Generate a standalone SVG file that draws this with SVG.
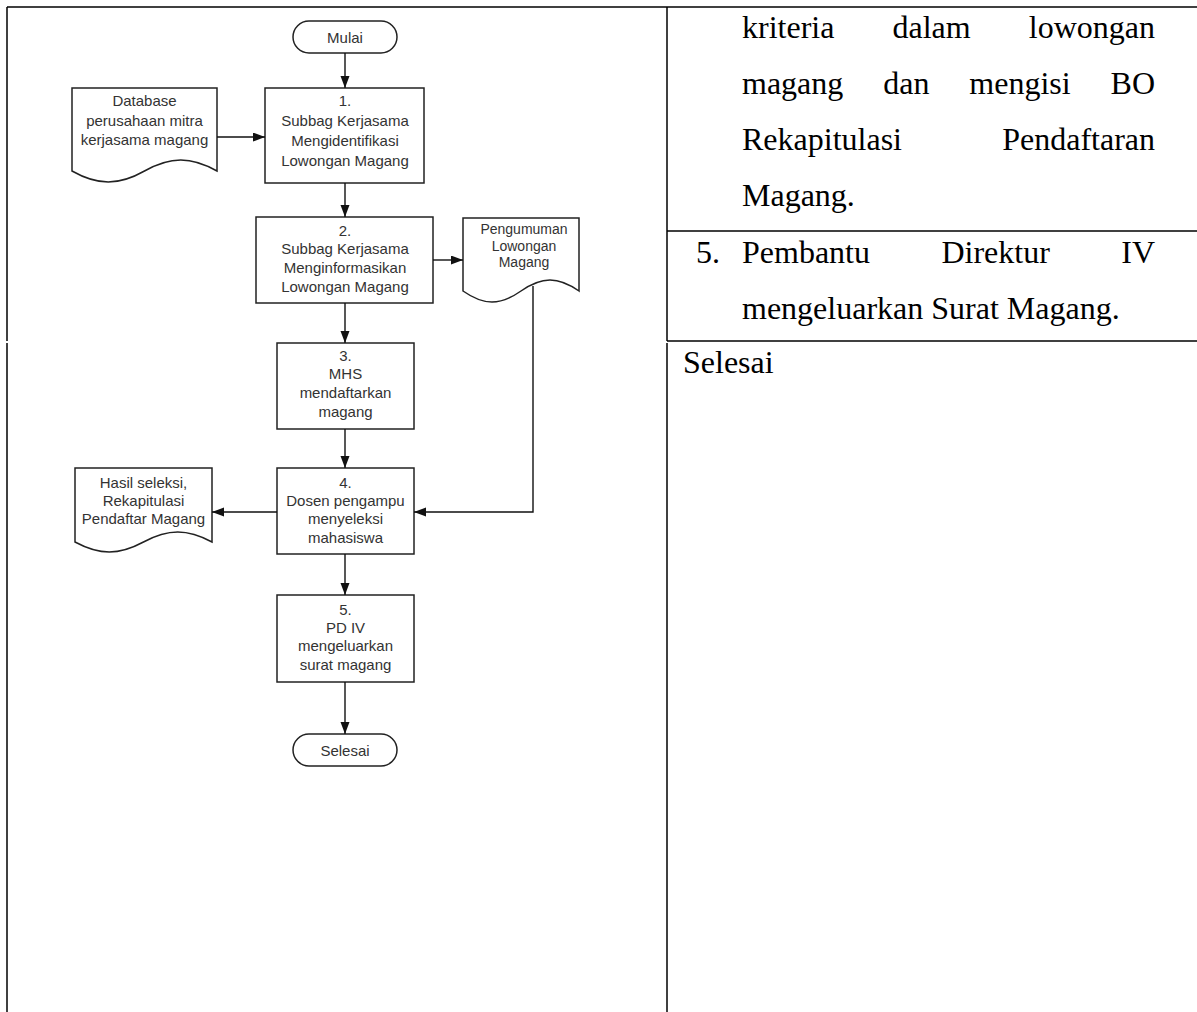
<svg xmlns="http://www.w3.org/2000/svg" width="1197" height="1012" viewBox="0 0 1197 1012">
<style>
.tbl{stroke:#000;stroke-width:1.5;fill:none}
.shape{fill:#fff;stroke:#222;stroke-width:1.5}
.fc{font-family:"Liberation Sans",Arial,sans-serif;font-size:15px;fill:#333;text-anchor:middle}
.fcs{font-family:"Liberation Sans",Arial,sans-serif;font-size:14px;fill:#333;text-anchor:middle}
.conn{stroke:#111;stroke-width:1.4;fill:none;marker-end:url(#ah)}
.body{font-family:"Liberation Serif","Times New Roman",serif;font-size:32px;fill:#000}
.end{text-anchor:end}
</style>
<defs>
<marker id="ah" markerUnits="userSpaceOnUse" markerWidth="13" markerHeight="10" refX="12" refY="4.5" orient="auto">
<path d="M0,0 L12,4.5 L0,9 Z" fill="#111"/>
</marker>
</defs>
<rect width="1197" height="1012" fill="#fff"/>
<g id="table">
<line class="tbl" x1="7" y1="7" x2="1197" y2="7"/>
<line class="tbl" x1="7" y1="7" x2="7" y2="341"/>
<line class="tbl" x1="7" y1="343" x2="7" y2="1012"/>
<line class="tbl" x1="667" y1="7" x2="667" y2="341"/>
<line class="tbl" x1="667" y1="343" x2="667" y2="1012"/>
<line class="tbl" x1="667" y1="231" x2="1197" y2="231"/>
<line class="tbl" x1="667" y1="341" x2="1197" y2="341"/>
</g>
<g id="right-text">
<text class="body" x="742" y="38">kriteria</text>
<text class="body" x="892.5" y="38">dalam</text>
<text class="body end" x="1155" y="38">lowongan</text>
<text class="body" x="742" y="94">magang</text>
<text class="body" x="883.2" y="94">dan</text>
<text class="body" x="969.3" y="94">mengisi</text>
<text class="body end" x="1155" y="94">BO</text>
<text class="body" x="742" y="150">Rekapitulasi</text>
<text class="body end" x="1155" y="150">Pendaftaran</text>
<text class="body" x="742" y="206">Magang.</text>
<text class="body" x="696" y="263">5.</text>
<text class="body" x="742" y="263">Pembantu</text>
<text class="body" x="941.4" y="263">Direktur</text>
<text class="body end" x="1155" y="263">IV</text>
<text class="body" x="742" y="319">mengeluarkan Surat Magang.</text>
<text class="body" x="683" y="373">Selesai</text>
</g>
<g id="mulai">
<rect class="shape" x="293" y="21" width="104" height="32" rx="16"/>
<text class="fc" x="345" y="42.5">Mulai</text>
</g>
<g id="database">
<path class="shape" d="M72,88 H217 V171 C191,156.3 170.5,156.3 144.5,171 C118.5,185.7 98,185.7 72,171 Z"/>
<text class="fc" x="144.5" y="106">Database</text>
<text class="fc" x="144.5" y="126">perusahaan mitra</text>
<text class="fc" x="144.5" y="145">kerjasama magang</text>
</g>
<g id="step1">
<rect class="shape" x="265" y="88" width="159" height="95"/>
<text class="fc" x="345" y="106">1.</text>
<text class="fc" x="345" y="126">Subbag Kerjasama</text>
<text class="fc" x="345" y="146">Mengidentifikasi</text>
<text class="fc" x="345" y="166">Lowongan Magang</text>
</g>
<g id="step2">
<rect class="shape" x="256" y="217" width="177" height="86"/>
<text class="fc" x="345" y="235.5">2.</text>
<text class="fc" x="345" y="254">Subbag Kerjasama</text>
<text class="fc" x="345" y="273">Menginformasikan</text>
<text class="fc" x="345" y="291.5">Lowongan Magang</text>
</g>
<g id="pengumuman">
<path class="shape" d="M463,218 H579 V291 C558,276.3 542,276.3 521,291 C500,305.7 484,305.7 463,291 Z"/>
<text class="fcs" x="524" y="234">Pengumuman</text>
<text class="fcs" x="524" y="250.5">Lowongan</text>
<text class="fcs" x="524" y="267">Magang</text>
</g>
<g id="step3">
<rect class="shape" x="277" y="343" width="137" height="86"/>
<text class="fc" x="345.5" y="360.5">3.</text>
<text class="fc" x="345.5" y="378.5">MHS</text>
<text class="fc" x="345.5" y="397.5">mendaftarkan</text>
<text class="fc" x="345.5" y="416.5">magang</text>
</g>
<g id="step4">
<rect class="shape" x="277" y="468" width="137" height="86"/>
<text class="fc" x="345.5" y="487.5">4.</text>
<text class="fc" x="345.5" y="505.5">Dosen pengampu</text>
<text class="fc" x="345.5" y="523.5">menyeleksi</text>
<text class="fc" x="345.5" y="542.5">mahasiswa</text>
</g>
<g id="hasil">
<path class="shape" d="M75,468 H212 V542 C187.3,528.7 168.2,528.7 143.5,542 C118.8,555.3 99.7,555.3 75,542 Z"/>
<text class="fc" x="143.5" y="487.5">Hasil seleksi,</text>
<text class="fc" x="143.5" y="506">Rekapitulasi</text>
<text class="fc" x="143.5" y="524">Pendaftar Magang</text>
</g>
<g id="step5">
<rect class="shape" x="277" y="595" width="137" height="87"/>
<text class="fc" x="345.5" y="614.5">5.</text>
<text class="fc" x="345.5" y="632.5">PD IV</text>
<text class="fc" x="345.5" y="650.5">mengeluarkan</text>
<text class="fc" x="345.5" y="669.5">surat magang</text>
</g>
<g id="selesai">
<rect class="shape" x="293" y="734" width="104" height="32" rx="16"/>
<text class="fc" x="345" y="755.5">Selesai</text>
</g>
<g id="connectors">
<path class="conn" d="M345,53 V88"/>
<path class="conn" d="M217,137 H265"/>
<path class="conn" d="M345,183 V217"/>
<path class="conn" d="M433,260 H463"/>
<path class="conn" d="M345,303 V343"/>
<path class="conn" d="M533,286 V512 H414"/>
<path class="conn" d="M345,429 V468"/>
<path class="conn" d="M277,512 H212"/>
<path class="conn" d="M345,554 V595"/>
<path class="conn" d="M345,682 V734"/>
</g>
</svg>
